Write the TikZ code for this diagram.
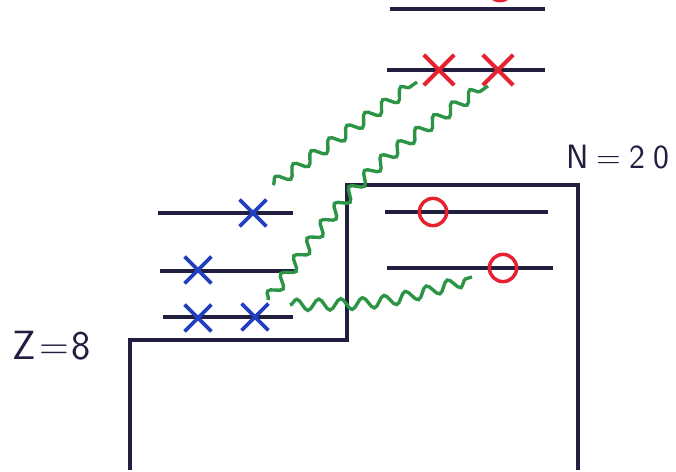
\documentclass[tikz,border=0pt]{standalone}
\usepackage{tikz}
\usetikzlibrary{decorations.pathmorphing,shapes.misc}
\definecolor{ink}{HTML}{221E40}
\definecolor{pblue}{HTML}{2040C0}
\definecolor{nred}{HTML}{E62230}
\definecolor{wgreen}{HTML}{2B9445}

\begin{document}
\begin{tikzpicture}[x=0.025cm,y=-0.025cm,
  lvl/.style={draw=ink,line width=2.5pt},
  pc/.style={cross out,draw=pblue,line width=2.6pt,minimum size=0.58cm,inner sep=0pt},
  nc/.style={cross out,draw=nred,line width=2.8pt,minimum size=0.66cm,inner sep=0pt},
  nh/.style={circle,draw=nred,line width=2.5pt,minimum size=0.68cm,inner sep=0pt},
  gam/.style={draw=wgreen,line width=2.4pt,decorate,
    decoration={snake,amplitude=0.14cm,segment length=0.55cm}}]
\useasboundingbox (0,0) rectangle (676,472);
% well
\draw[ink,line width=2.8pt] (130,470) -- (130,340) -- (347,340) -- (347,185)
  -- (578,185) -- (578,470);
\node[font=\sffamily\fontsize{29}{32}\selectfont,text=ink] (z) at (52,346) {Z\hspace{2pt}=\hspace{2pt}8};
\node[font=\sffamily\fontsize{24}{28}\selectfont,text=ink] (n) at (618,157)
  {N\hspace{5pt}=\hspace{6pt}2\hspace{6pt}0};
% levels
\foreach \a/\b/\h in {158/293/213,160/295/271,163/293/317,
                      385/548/212,387/553/268,387/545/70,390/545/9}
  {\draw[lvl] (\a,\h) -- (\b,\h);}
% protons
\node[pc] (p1) at (253,213) {};
\node[pc] (p2) at (198,270) {};
\node[pc] (p3) at (198,318) {};
\node[pc] (p4) at (255,317) {};
% neutrons
\node[nc] (x1) at (439,70) {};
\node[nc] (x2) at (498,70) {};
\node[nh] (o1) at (433,212) {};
\node[nh] (o2) at (503,268) {};
\node[nh] (o3) at (500,-13) {};
% gammas
\coordinate (g1) at (273,185);
\coordinate (g2) at (417,82);
\coordinate (g3) at (268,300);
\coordinate (g4) at (488,86);
\coordinate (g5) at (290,305);
\coordinate (g6) at (472,277);
\draw[gam] (g1) -- (g2);
\draw[gam] (g3) .. controls (362,173) .. (g4);
\draw[gam] (g5) .. controls (381,304) .. (g6);
\end{tikzpicture}
\end{document}
